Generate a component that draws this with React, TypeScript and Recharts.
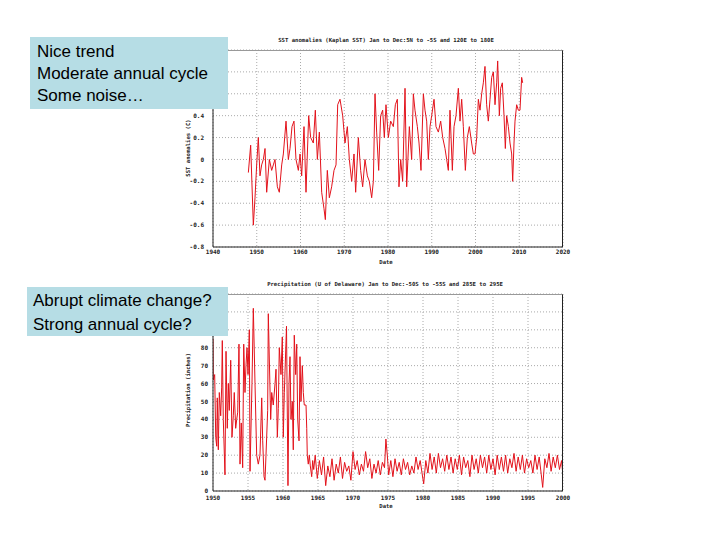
import React from 'react';
import { LineChart, Line, XAxis, YAxis, CartesianGrid } from 'recharts';

// SST anomaly series (decimal year, deg C)
const sstYears = [
  1948.08, 1948.61, 1949.22, 1949.6, 1949.98, 1950.36, 1950.74, 1951.12, 1951.51, 1951.89,
  1952.27, 1952.88, 1953.41, 1953.79, 1954.17, 1954.71, 1955.16, 1955.7, 1956.08, 1956.69,
  1957.22, 1957.6, 1958.06, 1958.51, 1958.97, 1959.51, 1959.89, 1960.27, 1960.8, 1961.26,
  1961.87, 1962.32, 1962.93, 1963.39, 1963.85, 1964.31, 1964.84, 1965.37, 1965.68, 1966.13,
  1966.59, 1967.12, 1967.66, 1968.12, 1968.5, 1969.03, 1969.64, 1970.17, 1970.71, 1971.16,
  1971.7, 1972.23, 1972.61, 1973.22, 1973.75, 1974.21, 1974.74, 1975.28, 1975.73, 1976.27,
  1976.65, 1977.03, 1977.41, 1977.87, 1978.32, 1978.78, 1979.16, 1979.54, 1980.08, 1980.61,
  1981.22, 1981.68, 1982.13, 1982.51, 1982.9, 1983.35, 1983.89, 1984.27, 1984.88, 1985.41,
  1985.79, 1986.17, 1986.71, 1987.09, 1987.54, 1988.08, 1988.46, 1988.84, 1989.22, 1989.6,
  1989.98, 1990.52, 1990.97, 1991.51, 1992.04, 1992.5, 1993.03, 1993.41, 1993.79, 1994.17,
  1994.71, 1995.09, 1995.54, 1996.08, 1996.46, 1996.84, 1997.22, 1997.68, 1998.13, 1998.59,
  1999.12, 1999.51, 1999.89, 2000.27, 2000.65, 2001.03, 2001.41, 2001.79, 2002.17, 2002.55,
  2002.93, 2003.32, 2003.7, 2004.08, 2004.46, 2004.84, 2005.07, 2005.45, 2005.75, 2006.13,
  2006.52, 2006.82, 2007.12, 2007.51, 2007.89, 2008.27, 2008.5, 2008.8, 2009.03, 2009.41,
  2009.79, 2010.17, 2010.55, 2010.78,
];
const sstValues = [
  -0.12, 0.13, -0.6, -0.35, -0.05, 0.2, -0.15, -0.05, 0.0, 0.1,
  -0.3, 0.0, -0.1, -0.05, 0.0, -0.25, -0.3, -0.05, 0.05, 0.35,
  0.0, 0.1, 0.3, 0.35, 0.0, -0.1, 0.05, -0.15, 0.3, -0.3,
  0.4, 0.2, 0.15, 0.45, 0.0, 0.25, -0.3, -0.45, -0.55, -0.1,
  -0.35, -0.25, -0.1, -0.05, 0.5, 0.55, 0.4, 0.15, 0.3, 0.0,
  -0.2, 0.05, -0.3, 0.2, -0.1, -0.25, 0.0, -0.15, -0.2, -0.35,
  -0.2, 0.6, 0.25, -0.1, 0.4, 0.45, 0.2, 0.5, 0.2, 0.35,
  0.3, 0.5, 0.55, -0.25, 0.0, -0.2, 0.65, -0.25, 0.3, 0.0,
  0.6, 0.45, 0.3, 0.15, -0.1, 0.6, 0.45, 0.35, 0.0, 0.3,
  0.4, 0.55, 0.3, 0.25, 0.35, 0.2, 0.1, 0.0, -0.1, 0.45,
  -0.1, 0.3, 0.4, 0.65, 0.35, 0.55, 0.3, -0.1, 0.2, 0.3,
  0.15, 0.05, 0.05, 0.2, 0.55, 0.45, 0.6, 0.7, 0.85, 0.5,
  0.35, 0.55, 0.75, 0.8, 0.5, 0.7, 0.9, 0.4, 0.65, 0.7,
  0.4, 0.1, 0.4, 0.3, 0.15, 0.05, -0.2, 0.15, 0.35, 0.5,
  0.45, 0.45, 0.75, 0.7,
];

// Precipitation series (decimal year, inches)
const precipYears = [
  1950.0, 1950.04, 1950.24, 1950.39, 1950.53, 1950.61, 1950.76, 1950.9, 1951.1, 1951.24,
  1951.33, 1951.47, 1951.71, 1951.86, 1952.04, 1952.19, 1952.33, 1952.53, 1952.71, 1952.9,
  1953.04, 1953.24, 1953.39, 1953.53, 1953.71, 1953.86, 1954.04, 1954.24, 1954.39, 1954.57,
  1954.71, 1954.86, 1955.0, 1955.19, 1955.29, 1955.57, 1955.76, 1956.0, 1956.24, 1956.47,
  1956.71, 1956.96, 1957.1, 1957.29, 1957.43, 1957.57, 1957.81, 1957.9, 1958.24, 1958.39,
  1958.61, 1958.86, 1959.0, 1959.19, 1959.33, 1959.47, 1959.71, 1959.9, 1960.04, 1960.19,
  1960.5, 1960.71, 1960.86, 1961.0, 1961.14, 1961.33, 1961.47, 1961.61, 1961.81, 1961.96,
  1962.1, 1962.29, 1962.43, 1962.57, 1962.76, 1962.9, 1963.04, 1963.29, 1963.39, 1963.47,
  1963.61, 1963.76, 1963.9, 1964.1, 1964.24, 1964.39,
  1964.6, 1964.9, 1965.2, 1965.5, 1965.8, 1966.1, 1966.4, 1966.7, 1967.0, 1967.3,
  1967.6, 1967.9, 1968.2, 1968.5, 1968.8, 1969.1, 1969.4, 1969.7, 1970.0, 1970.3,
  1970.6, 1970.9, 1971.2, 1971.5, 1971.8, 1972.1, 1972.4, 1972.7, 1973.0, 1973.3,
  1973.6, 1973.9, 1974.2, 1974.5, 1974.7, 1974.9, 1975.1, 1975.4, 1975.7, 1976.0,
  1976.3, 1976.6, 1976.9, 1977.2, 1977.5, 1977.8, 1978.1, 1978.4, 1978.7, 1979.0,
  1979.3, 1979.6, 1979.9, 1980.1, 1980.4, 1980.7, 1981.0, 1981.3, 1981.6, 1981.9,
  1982.2, 1982.5, 1982.8, 1983.1, 1983.4, 1983.7, 1984.0, 1984.3, 1984.6, 1984.9,
  1985.2, 1985.5, 1985.8, 1986.1, 1986.4, 1986.7, 1987.0, 1987.3, 1987.6, 1987.9,
  1988.2, 1988.5, 1988.8, 1989.1, 1989.4, 1989.7, 1990.0, 1990.3, 1990.6, 1990.9,
  1991.2, 1991.5, 1991.8, 1992.1, 1992.4, 1992.7, 1993.0, 1993.3, 1993.6, 1993.9,
  1994.2, 1994.5, 1994.8, 1995.1, 1995.4, 1995.7, 1996.0, 1996.3, 1996.6, 1996.9,
  1997.1, 1997.4, 1997.7, 1998.0, 1998.3, 1998.6, 1998.9, 1999.2, 1999.5, 1999.8,
  2000.0,
];
const precipValues = [
  85, 62, 65, 30, 25, 52, 23, 55, 42, 58,
  84, 40, 9, 78, 35, 60, 45, 73, 30, 42,
  55, 35, 40, 44, 82, 15, 38, 13, 82, 55,
  70, 80, 65, 90, 11, 60, 102, 60, 20, 15,
  20, 52, 28, 8, 6, 20, 45, 99, 40, 55,
  48, 60, 68, 30, 46, 80, 65, 86, 30, 55,
  92, 3, 60, 75, 40, 50, 23, 87, 65, 82,
  40, 28, 75, 50, 70, 55, 48, 48, 35, 20,
  15, 20, 14, 8, 17, 12,
  20, 7, 17, 9, 19, 3, 14, 8, 18, 6,
  15, 10, 19, 7, 16, 11, 14, 6, 22, 12,
  17, 9, 15, 11, 22, 13, 18, 7, 15, 10,
  17, 9, 16, 13, 29, 20, 9, 17, 8, 18,
  11, 16, 9, 18, 12, 16, 9, 14, 10, 19,
  12, 17, 9, 4, 17, 10, 21, 12, 19, 10,
  21, 13, 18, 11, 20, 12, 19, 10, 18, 12,
  20, 9, 19, 13, 17, 8, 20, 12, 18, 10,
  20, 13, 19, 10, 20, 12, 18, 9, 20, 12,
  19, 11, 20, 10, 18, 13, 21, 11, 19, 12,
  20, 10, 18, 13, 17, 10, 20, 12, 19, 9,
  2, 18, 13, 21, 11, 19, 13, 20, 12, 17,
  8,
];

const sstXTicks = [1940, 1950, 1960, 1970, 1980, 1990, 2000, 2010, 2020];
const sstYTicks = [-0.8, -0.6, -0.4, -0.2, 0, 0.2, 0.4, 0.6, 0.8, 1.0];
const precipXTicks = [1950, 1955, 1960, 1965, 1970, 1975, 1980, 1985, 1990, 1995, 2000];
const precipYTicks = [0, 10, 20, 30, 40, 50, 60, 70, 80, 90, 100, 110];

const sstData = sstYears.map((t, i) => ({ t, v: sstValues[i] }));
const precipData = precipYears.map((t, i) => ({ t, v: precipValues[i] }));

const MONO = "'DejaVu Sans Mono', monospace";
const tickStyle = { fontSize: 6, fontFamily: MONO, fontWeight: 700, fill: '#222' };
const RED = '#e3121b';

// labels above these values sit under the note boxes, as in the slide
const fmtSst = (v: number) => (v > 0.5 ? '' : v === 0 ? '0' : v.toFixed(1));
const fmtPrecip = (v: number) => (v > 85 ? '' : String(v));

interface PanelProps {
  top: number;
  plotTop: number;
  data: { t: number; v: number }[];
  xDomain: [number, number];
  xTicks: number[];
  xTickMargin: number;
  yDomain: [number, number];
  yTicks: number[];
  yFmt: (v: number) => string;
  yTickMargin: number;
}

function Panel({ top, plotTop, data, xDomain, xTicks, xTickMargin, yDomain, yTicks, yFmt, yTickMargin }: PanelProps) {
  const h = 270;
  const bottom = h - (plotTop + 197) - 20;
  return (
    <div style={{ position: 'absolute', left: 0, top, width: 720, height: h }}>
      <LineChart width={720} height={h} data={data}
        margin={{ top: plotTop, right: 157, bottom, left: 193 }}>
        <CartesianGrid strokeDasharray="1 2" stroke="#aaa" />
        <XAxis type="number" dataKey="t" domain={xDomain} ticks={xTicks}
          allowDataOverflow height={20} tickSize={0} tickMargin={xTickMargin}
          axisLine={{ stroke: '#222' }} tick={tickStyle} interval={0} />
        <YAxis type="number" domain={yDomain} ticks={yTicks} allowDataOverflow
          width={20} tickSize={0} tickMargin={yTickMargin} interval={0}
          axisLine={{ stroke: '#222' }} tick={tickStyle}
          tickFormatter={yFmt} />
        <Line type="linear" dataKey="v" stroke={RED} strokeWidth={1}
          dot={false} isAnimationActive={false} />
      </LineChart>
      {/* top / right frame of the plot box */}
      <div style={{
        position: 'absolute', left: 213, top: plotTop, width: 350, height: 197,
        borderTop: '1px solid #999', borderRight: '1px solid #222', boxSizing: 'border-box',
      }} />
    </div>
  );
}

const small: React.CSSProperties = {
  position: 'absolute', fontFamily: MONO, fontWeight: 700, fontSize: 5.6,
  color: '#222', whiteSpace: 'nowrap', lineHeight: 1,
};

const note: React.CSSProperties = {
  position: 'absolute', background: '#b6dde5',
  fontFamily: "'Liberation Sans', Arial, sans-serif", fontSize: 17, color: '#000',
  boxSizing: 'border-box',
};

export default function App() {
  return (
    <div style={{ position: 'absolute', left: 0, top: 0, width: 720, height: 540, background: '#fff', overflow: 'hidden' }}>
      <Panel top={0} plotTop={50} data={sstData} xDomain={[1940, 2020]} xTicks={sstXTicks} xTickMargin={3}
        yDomain={[-0.8, 1.0]} yTicks={sstYTicks} yFmt={fmtSst} yTickMargin={9} />
      <Panel top={270} plotTop={24} data={precipData} xDomain={[1950, 2000]} xTicks={precipXTicks} xTickMargin={5}
        yDomain={[0, 110]} yTicks={precipYTicks} yFmt={fmtPrecip} yTickMargin={5} />

      <div style={{ ...small, left: 386, top: 41, transform: 'translate(-50%,-50%)' }}>
        SST anomalies (Kaplan SST) Jan to Dec:5N to -5S and 120E to 180E
      </div>
      <div style={{ ...small, left: 189, top: 148, transform: 'translate(-50%,-50%) rotate(-90deg)' }}>
        SST anomalies (C)
      </div>
      <div style={{ ...small, left: 386, top: 263, transform: 'translate(-50%,-50%)' }}>Date</div>

      <div style={{ ...small, left: 385, top: 285, transform: 'translate(-50%,-50%)' }}>
        Precipitation (U of Delaware) Jan to Dec:-50S to -55S and 285E to 295E
      </div>
      <div style={{ ...small, left: 189, top: 390, transform: 'translate(-50%,-50%) rotate(-90deg)' }}>
        Precipitation (inches)
      </div>
      <div style={{ ...small, left: 386, top: 507, transform: 'translate(-50%,-50%)' }}>Date</div>

      <div style={{ ...note, left: 30, top: 37, width: 198, height: 72, padding: '4px 0 0 7px', lineHeight: '22px' }}>
        Nice trend<br />Moderate annual cycle<br />Some noise…
      </div>
      <div style={{ ...note, left: 27, top: 287, width: 201, height: 49, padding: '2px 0 0 6px', lineHeight: '24px' }}>
        Abrupt climate change?<br />Strong annual cycle?
      </div>
    </div>
  );
}
